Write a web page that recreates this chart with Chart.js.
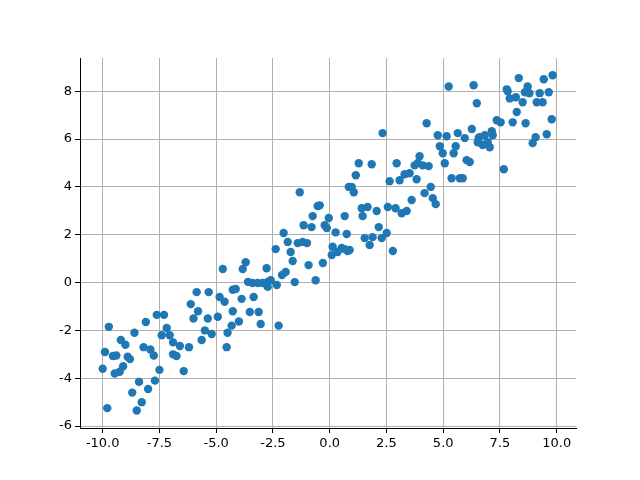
<!DOCTYPE html>
<html>
<head>
<script src="https://cdn.jsdelivr.net/npm/chart.js@4"></script>
<style>body{margin:0;background:#fff}</style>
</head>
<body>
<canvas id="myChart" width="640" height="480"></canvas>
<script>
// scatter points
var xs = [-4.71,-5.86,-5.33,-4.85,-4.63,-4.27,-6.12,-5.8,-6.0,-5.37,-4.93,-4.27,-7.62,-7.3,-8.1,-9.73,-7.18,-5.5,-5.2,-4.32,-4.5,-8.6,-7.4,-7.05,-6.9,-6.6,-6.2,-5.64,-4.54,-9.2,-9.0,-8.2,-7.9,-7.75,-9.9,-9.55,-9.4,-8.9,-8.8,-6.9,-6.75,-10.0,-9.47,-9.25,-9.1,-7.5,-6.43,-8.4,-7.7,-8.0,-8.7,-8.28,-9.8,-8.5,
  -1.32,0.84,-0.53,-0.44,-0.75,-0.04,0.66,-1.15,-0.8,-0.22,-0.13,0.26,0.75,-2.03,-1.85,-1.41,-1.19,-1.0,-2.38,-1.72,-1.63,0.13,0.35,0.53,0.66,0.79,0.09,-0.3,-0.93,-0.62,-1.54,-2.78,-3.7,-3.83,-2.1,-1.94,-3.6,-3.4,-3.17,-2.95,-2.73,-2.6,-2.73,-2.33,-4.14,-3.35,-3.88,-3.52,-3.13,-4.0,-3.04,-2.25,
  4.27,2.33,4.76,5.15,5.64,6.26,5.95,6.56,4.85,4.98,5.55,5.46,6.03,6.17,5.07,3.96,3.74,3.88,4.1,4.36,2.95,1.28,1.85,1.15,3.3,3.52,3.08,2.64,3.83,5.37,5.73,5.86,0.97,1.06,4.45,4.18,4.54,4.67,3.61,1.41,1.67,1.45,2.07,2.56,2.9,3.17,3.39,2.16,2.51,1.54,1.89,2.29,1.76,2.78,0.88,
  9.82,9.43,8.33,5.24,6.34,7.8,7.84,8.72,8.6,8.8,9.25,9.65,7.93,8.2,8.5,9.12,9.38,6.48,8.24,7.36,7.53,8.06,8.63,9.78,6.6,6.83,7.14,7.18,6.52,6.74,7.05,6.96,9.07,8.94,9.56,7.67];
var ys = [0.57,-0.4,-0.4,-0.6,-0.8,-0.3,-0.9,-1.2,-1.5,-1.5,-1.43,-1.2,-1.35,-1.35,-1.65,-1.85,-1.9,-2.0,-2.15,-1.8,-2.1,-2.1,-2.2,-2.2,-2.5,-2.65,-2.7,-2.4,-2.7,-2.4,-2.6,-2.7,-2.8,-3.05,-2.9,-3.07,-3.05,-3.1,-3.2,-3.0,-3.07,-3.6,-3.8,-3.73,-3.5,-3.65,-3.7,-4.15,-4.1,-4.45,-4.6,-5.0,-5.25,-5.35,
  3.78,4.0,3.2,3.23,2.78,2.7,2.78,2.4,2.32,2.4,2.28,2.1,2.03,2.07,1.7,1.65,1.7,1.65,1.4,1.28,0.9,1.5,1.28,1.45,1.4,1.32,1.15,0.82,0.73,0.1,0.02,0.6,0.85,0.57,0.32,0.44,0.03,-0.02,-0.02,-0.02,0.03,0.1,-0.18,-0.1,-0.27,-0.6,-0.68,-1.23,-1.23,-1.63,-1.73,-1.8,
  6.66,6.25,6.16,6.12,6.25,6.42,6.04,6.04,5.7,5.41,5.7,5.41,5.12,5.04,4.99,5.28,4.9,5.0,4.9,4.87,4.99,4.99,4.95,4.49,4.53,4.57,4.28,4.24,4.32,4.36,4.36,4.36,4.0,3.78,4.0,3.74,3.53,3.28,3.45,3.11,3.16,2.78,2.99,3.16,3.11,2.9,2.99,2.32,2.07,1.86,1.9,1.86,1.57,1.32,1.36,
  8.67,8.5,8.55,8.2,8.25,8.08,8.0,8.2,7.96,7.92,7.92,7.96,7.7,7.75,7.54,7.54,7.54,7.5,7.13,6.79,6.7,6.7,6.66,6.83,6.08,6.16,6.33,6.16,5.87,5.75,5.66,5.87,6.08,5.83,6.2,4.74];
var xTicks = [-10, -7.5, -5, -2.5, 0, 2.5, 5, 7.5, 10];
var yTicks = [-6, -4, -2, 0, 2, 4, 6, 8];

var pts = xs.map(function (x, i) { return { x: x, y: ys[i] }; });
var font = { family: 'DejaVu Sans', size: 13 };

new Chart(document.getElementById('myChart'), {
    type: 'scatter',
    data: { datasets: [{ data: pts, backgroundColor: '#1f77b4', borderWidth: 0, pointRadius: 4.2, pointHoverRadius: 4.2 }] },
    options: {
        animation: false,
        responsive: false,
        devicePixelRatio: 1,
        layout: { padding: { left: 0, top: 58, right: 64, bottom: 0 } },
        plugins: { legend: { display: false }, tooltip: { enabled: false } },
        scales: {
            x: {
                min: -11.0, max: 10.85,
                afterBuildTicks: function (a) { a.ticks = xTicks.map(function (v) { return { value: v }; }); },
                afterFit: function (a) { a.height = 52; },
                ticks: { color: '#000', font: font, maxRotation: 0, callback: function (v) { return v.toFixed(1); } },
                grid: { color: '#b0b0b0', tickColor: '#000', tickLength: 5 },
                border: { color: '#000' }
            },
            y: {
                min: -6.08, max: 9.39,
                afterBuildTicks: function (a) { a.ticks = yTicks.map(function (v) { return { value: v }; }); },
                afterFit: function (a) { a.width = 80; },
                ticks: { color: '#000', font: font, callback: function (v) { return String(v); } },
                grid: { color: '#b0b0b0', tickColor: '#000', tickLength: 5 },
                border: { color: '#000' }
            }
        }
    }
});
</script>
</body>
</html>
